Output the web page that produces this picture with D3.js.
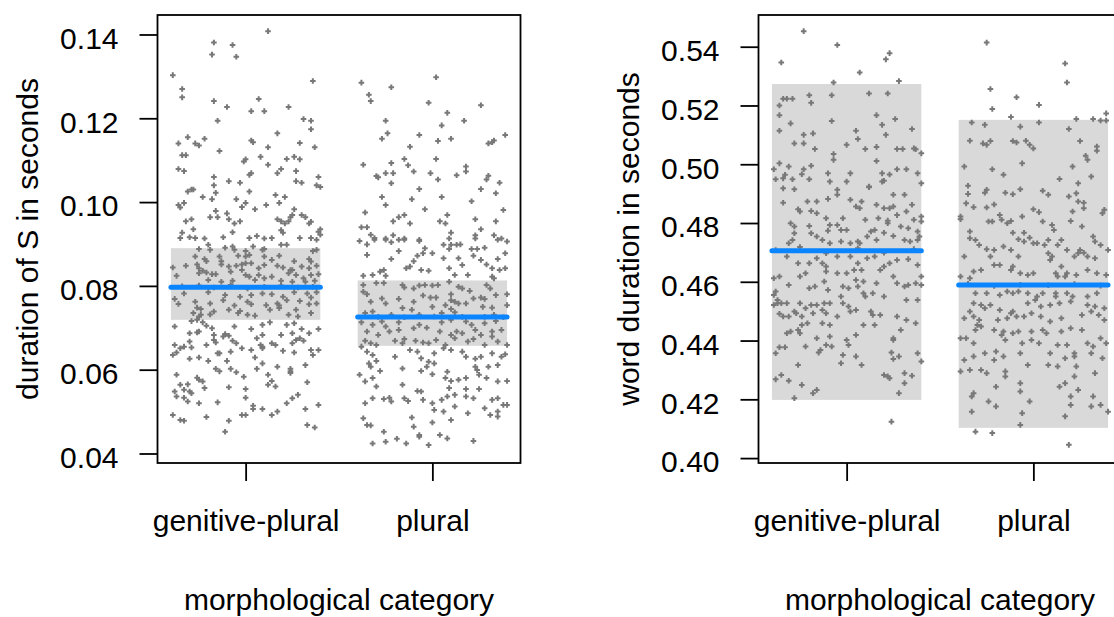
<!DOCTYPE html>
<html>
<head>
<meta charset="utf-8">
<script src="https://cdn.jsdelivr.net/npm/d3@7"></script>
<style>
  body { margin: 0; background: #fff; }
  text { font-family: "Liberation Sans", Arial, sans-serif; fill: #000; }
</style>
</head>
<body>
<script>
// categories on the x axis
const categories = ["genitive-plural", "plural"];

// tick values
const sTicks = [0.04, 0.06, 0.08, 0.10, 0.12, 0.14];
const wTicks = [0.40, 0.42, 0.44, 0.46, 0.48, 0.50, 0.52, 0.54];

// grey bands (low / high) and blue line value per category
const sBandLow = [0.0719, 0.0657];
const sBandHigh = [0.0890, 0.0813];
const sMid = [0.0797, 0.0726];
const wBandLow = [0.4198, 0.4103];
const wBandHigh = [0.5273, 0.5151];
const wMid = [0.4706, 0.4589];

const sGenPl = [
[0.12,0.1408],[-0.17,0.1381],[-0.07,0.1375],[-0.18,0.1352],[-0.05,0.1347],[-0.39,0.1303],[0.36,0.1289],[-0.34,0.1270],[-0.34,0.1250],[-0.17,0.1241],[0.07,0.1246],[-0.10,0.1227],[0.03,0.1217],[0.10,0.1217],[0.23,0.1227],[-0.15,0.1194],[0.31,0.1198],[0.35,0.1194],[0.35,0.1174],[0.17,0.1164],[-0.31,0.1155],[-0.36,0.1140],[-0.27,0.1140],[-0.25,0.1135],[-0.22,0.1151],[0.03,0.1147],[0.04,0.1143],[0.29,0.1141],[0.37,0.1131],[-0.14,0.1122],[0.12,0.1131],[-0.34,0.1112],[-0.32,0.1112],[0.08,0.1108],[0.00,0.1102],[-0.01,0.1097],[0.22,0.1103],[0.26,0.1108],[0.29,0.1102],[-0.36,0.1079],[-0.33,0.1074],[0.12,0.1089],[0.19,0.1079],[0.17,0.1069],[0.27,0.1074],[0.02,0.1065],[0.03,0.1069],[-0.17,0.1060],[0.39,0.1060],[-0.17,0.1040],[-0.09,0.1050],[-0.03,0.1046],[0.27,0.1050],[0.30,0.1046],[0.38,0.1040],[0.40,0.1036],[-0.29,0.1030],[-0.31,0.1025],[-0.28,0.1030],[-0.16,0.1022],[0.02,0.1025],[-0.23,0.1012],[-0.18,0.1007],[-0.05,0.1007],[0.16,0.1017],[0.21,0.1012],[-0.36,0.0993],[-0.33,0.0998],[-0.35,0.0987],[0.00,0.0998],[-0.02,0.0988],[0.11,0.0993],[0.18,0.0998],[0.05,0.0983],[0.26,0.0983],[-0.16,0.0979],[-0.10,0.0973],[-0.19,0.0964],[-0.15,0.0964],[-0.09,0.0959],[-0.06,0.0949],[-0.03,0.0954],[-0.32,0.0954],[-0.29,0.0959],[0.17,0.0959],[0.19,0.0954],[0.23,0.0954],[0.24,0.0964],[0.25,0.0969],[0.21,0.0949],[0.30,0.0969],[0.32,0.0964],[0.35,0.0953],[0.34,0.0949],[-0.28,0.0935],[-0.34,0.0927],[0.19,0.0933],[0.20,0.0927],[0.40,0.0935],[0.39,0.0929],[0.40,0.0922],[-0.35,0.0914],[-0.30,0.0916],[-0.27,0.0914],[-0.22,0.0913],[-0.12,0.0916],[-0.07,0.0928],[0.02,0.0914],[0.06,0.0919],[0.10,0.0913],[0.14,0.0914],[0.29,0.0914],[0.35,0.0914],[0.38,0.0910],
[-0.25,0.0888],[-0.20,0.0898],[-0.19,0.0886],[-0.11,0.0891],[-0.07,0.0894],[-0.06,0.0886],[0.00,0.0883],[0.04,0.0894],[0.09,0.0886],[0.10,0.0888],[0.19,0.0898],[0.22,0.0898],[0.36,0.0883],[0.38,0.0886],
[-0.27,0.0870],[-0.22,0.0864],[-0.21,0.0859],[-0.14,0.0870],[-0.13,0.0859],[-0.04,0.0872],[0.00,0.0870],[0.02,0.0874],[0.10,0.0870],[0.14,0.0862],[0.18,0.0872],[0.26,0.0859],[0.34,0.0864],[0.35,0.0858],
[-0.39,0.0844],[-0.32,0.0848],[-0.26,0.0851],[-0.25,0.0842],[-0.23,0.0836],[-0.13,0.0851],[-0.09,0.0846],[-0.05,0.0848],[-0.02,0.0851],[0.00,0.0854],[0.03,0.0854],[0.07,0.0842],[0.10,0.0850],[0.17,0.0848],[0.20,0.0844],[0.25,0.0838],[0.30,0.0846],[0.34,0.0842],[0.38,0.0848],[0.23,0.0830],[0.24,0.0838],
[-0.37,0.0824],[-0.25,0.0830],[-0.21,0.0832],[-0.18,0.0828],[-0.16,0.0828],[-0.08,0.0834],[-0.02,0.0838],[0.00,0.0826],[0.02,0.0822],[0.07,0.0826],[0.10,0.0818],[0.14,0.0822],[0.27,0.0826],[0.31,0.0818],[0.35,0.0826],[0.39,0.0828],[-0.20,0.0814],[-0.13,0.0810],[-0.07,0.0812],[0.05,0.0814],[0.19,0.0812],[0.25,0.0810],[0.32,0.0810],[0.37,0.0812],
[-0.34,0.0799],[-0.25,0.0801],[-0.17,0.0796],[-0.08,0.0802],[0.01,0.0794],[0.10,0.0798],[0.19,0.0801],[0.28,0.0796],[0.36,0.0798],
[-0.33,0.0782],[-0.20,0.0785],[-0.11,0.0778],[-0.03,0.0774],[0.03,0.0778],[0.09,0.0782],[0.14,0.0780],[0.20,0.0774],[0.26,0.0785],[0.33,0.0782],[0.35,0.0772],[0.38,0.0785],
[-0.38,0.0769],[-0.36,0.0757],[-0.27,0.0762],[-0.19,0.0758],[-0.12,0.0766],[-0.06,0.0753],[0.01,0.0762],[0.03,0.0756],[0.11,0.0754],[0.17,0.0758],[0.18,0.0753],[0.22,0.0766],[0.29,0.0764],[0.34,0.0756],[0.38,0.0758],[-0.26,0.0748],[-0.24,0.0745],
[-0.28,0.0735],[-0.25,0.0727],[-0.24,0.0731],[-0.19,0.0732],[-0.17,0.0739],[-0.09,0.0743],[-0.04,0.0735],[-0.03,0.0740],[0.01,0.0731],[0.05,0.0729],[0.13,0.0743],[0.18,0.0747],[0.23,0.0731],[0.27,0.0743],[0.28,0.0727],[0.35,0.0735],[-0.29,0.0716],[-0.26,0.0719],[-0.23,0.0713],
[-0.38,0.0703],[-0.21,0.0705],[-0.18,0.0699],[-0.06,0.0703],[0.03,0.0697],[0.09,0.0707],[0.13,0.0713],[0.22,0.0707],[0.26,0.0711],[0.30,0.0697],[0.39,0.0697],[-0.30,0.0687],[-0.26,0.0689],[-0.25,0.0691],[-0.17,0.0683],[-0.11,0.0685],[-0.09,0.0681],[0.09,0.0683],[0.19,0.0683],[0.25,0.0687],[0.34,0.0687],
[-0.38,0.0659],[-0.35,0.0651],[-0.33,0.0655],[-0.30,0.0667],[-0.29,0.0653],[-0.21,0.0659],[-0.17,0.0671],[-0.16,0.0665],[-0.12,0.0679],[-0.07,0.0669],[-0.05,0.0663],[0.06,0.0675],[0.08,0.0659],[0.09,0.0655],[0.14,0.0663],[0.16,0.0659],[0.25,0.0663],[0.27,0.0671],[0.29,0.0675],[0.31,0.0669],[0.35,0.0647],[-0.14,0.0639],[-0.08,0.0643],[-0.02,0.0651],[0.03,0.0647],[0.05,0.0629],[0.09,0.0651],
[-0.39,0.0635],[-0.37,0.0641],[-0.30,0.0626],[-0.25,0.0629],[-0.20,0.0621],[-0.15,0.0639],[-0.10,0.0621],[0.09,0.0615],[0.20,0.0645],[0.26,0.0641],[0.36,0.0635],[-0.16,0.0602],[-0.14,0.0596],[-0.08,0.0602],[-0.05,0.0594],[-0.01,0.0583],[0.06,0.0602],[0.17,0.0607],[0.24,0.0602],[0.24,0.0596],[0.32,0.0611],[0.39,0.0647],
[-0.37,0.0588],[-0.26,0.0581],[-0.25,0.0576],[-0.23,0.0572],[-0.22,0.0556],[-0.35,0.0564],[-0.31,0.0565],[-0.09,0.0558],[0.00,0.0554],[0.12,0.0588],[0.14,0.0573],[0.16,0.0560],[0.12,0.0564],[0.24,0.0592],[0.33,0.0570],[-0.33,0.0552],[-0.30,0.0548],
[-0.38,0.0548],[-0.37,0.0536],[-0.33,0.0533],[-0.31,0.0524],[-0.29,0.0544],[-0.25,0.0520],[-0.15,0.0522],[0.00,0.0533],[0.04,0.0514],[0.09,0.0506],[0.17,0.0500],[0.22,0.0520],[0.25,0.0532],[0.28,0.0540],[0.32,0.0506],[0.39,0.0516],[0.04,0.0506],
[-0.39,0.0492],[-0.35,0.0480],[-0.33,0.0478],[-0.21,0.0487],[-0.09,0.0478],[-0.02,0.0492],[0.00,0.0492],[0.14,0.0492],[0.33,0.0468],[0.37,0.0462],[-0.11,0.0452]
];

const sPlural = [
[0.02,0.1298],[-0.38,0.1285],[-0.22,0.1274],[-0.34,0.1256],[-0.33,0.1241],[-0.02,0.1237],[0.26,0.1231],[0.08,0.1213],[-0.25,0.1194],[0.17,0.1194],[0.05,0.1183],[-0.24,0.1164],[-0.27,0.1151],[-0.07,0.1160],[0.39,0.1160],[0.03,0.1146],[0.10,0.1151],[0.30,0.1140],[0.32,0.1143],[0.33,0.1147],[-0.12,0.1132],[-0.15,0.1103],[-0.13,0.1088],[0.02,0.1103],[-0.37,0.1089],[-0.22,0.1093],[-0.30,0.1062],[-0.29,0.1059],[-0.25,0.1069],[-0.21,0.1069],[-0.10,0.1073],[-0.01,0.1069],[0.03,0.1054],[0.18,0.1085],[0.18,0.1073],[0.13,0.1064],[0.30,0.1063],[0.29,0.1054],[0.36,0.1046],[-0.22,0.1045],[-0.27,0.1012],[-0.25,0.0993],[-0.11,0.1007],[-0.07,0.1031],[0.05,0.1012],[0.26,0.1031],[0.34,0.1021],[0.21,0.1002],[-0.36,0.0975],[-0.04,0.0983],[0.38,0.0981],[-0.21,0.0954],[-0.18,0.0964],[-0.15,0.0969],[-0.12,0.0949],[0.04,0.0954],[0.07,0.0949],[0.08,0.0969],[0.23,0.0959],[0.34,0.0954],[0.26,0.0935],[0.10,0.0927],[-0.38,0.0940],[-0.35,0.0940],[-0.33,0.0922],[-0.31,0.0914],[-0.25,0.0913],[-0.21,0.0921],[-0.15,0.0913],[-0.07,0.0910],[0.09,0.0913],[0.23,0.0921],[0.23,0.0913],[0.33,0.0921],[0.37,0.0913],
[-0.39,0.0907],[-0.35,0.0899],[-0.31,0.0910],[-0.25,0.0910],[-0.22,0.0904],[-0.18,0.0910],[-0.15,0.0910],[-0.07,0.0907],[0.06,0.0898],[0.09,0.0888],[0.10,0.0898],[0.13,0.0898],[0.15,0.0899],[0.21,0.0888],[0.24,0.0888],[0.28,0.0891],[0.35,0.0910],[0.40,0.0906],[-0.35,0.0874],[-0.18,0.0883],[-0.04,0.0890],[0.00,0.0878],[-0.05,0.0878],[-0.08,0.0872],
[-0.22,0.0864],[-0.10,0.0859],[0.06,0.0866],[0.14,0.0866],[0.22,0.0872],[0.26,0.0862],[0.35,0.0864],[0.39,0.0878],[-0.14,0.0842],[-0.12,0.0846],[-0.06,0.0838],[-0.02,0.0836],[0.09,0.0842],[0.16,0.0850],[0.19,0.0826],[0.29,0.0851],[0.32,0.0842],[0.36,0.0838],[0.39,0.0842],[-0.37,0.0824],[-0.32,0.0826],[-0.28,0.0834],[-0.26,0.0838],[-0.25,0.0824],[0.32,0.0822],[0.33,0.0818],[0.12,0.0826],
[-0.37,0.0802],[-0.37,0.0786],[-0.30,0.0807],[-0.26,0.0807],[-0.16,0.0802],[-0.15,0.0796],[-0.10,0.0794],[-0.07,0.0801],[-0.04,0.0802],[0.00,0.0801],[0.03,0.0802],[0.09,0.0810],[0.14,0.0798],[0.16,0.0794],[0.20,0.0788],[0.29,0.0802],[0.31,0.0794],[0.40,0.0780],[-0.35,0.0780],[-0.27,0.0770],[-0.18,0.0769],[-0.10,0.0762],[-0.05,0.0777],[-0.01,0.0772],[0.02,0.0772],[0.10,0.0780],[0.10,0.0766],[0.12,0.0762],[0.22,0.0770],[0.26,0.0772],[0.28,0.0769],[0.34,0.0778],
[-0.33,0.0762],[-0.25,0.0758],[-0.16,0.0747],[-0.11,0.0743],[0.00,0.0750],[0.07,0.0754],[0.10,0.0745],[0.14,0.0758],[0.18,0.0758],[0.27,0.0750],[0.32,0.0748],[0.40,0.0754],[-0.36,0.0735],[-0.32,0.0739],[-0.22,0.0731],[-0.07,0.0731],[0.05,0.0735],[0.12,0.0737],[0.33,0.0731],
[-0.29,0.0726],[-0.15,0.0725],[0.01,0.0727],[0.16,0.0726],[0.28,0.0726],[0.38,0.0725],
[-0.38,0.0713],[-0.32,0.0707],[-0.27,0.0715],[-0.25,0.0703],[-0.18,0.0713],[-0.07,0.0707],[0.05,0.0713],[0.10,0.0719],[0.18,0.0715],[0.21,0.0707],[0.28,0.0711],[0.34,0.0716],[-0.35,0.0691],[-0.29,0.0683],[-0.23,0.0691],[-0.18,0.0695],[-0.10,0.0699],[-0.03,0.0700],[0.04,0.0691],[0.10,0.0683],[0.13,0.0691],[0.16,0.0687],[0.23,0.0695],[0.26,0.0683],[0.32,0.0691],[0.37,0.0695],
[-0.36,0.0669],[-0.33,0.0663],[-0.20,0.0669],[-0.16,0.0663],[-0.15,0.0673],[-0.09,0.0669],[-0.05,0.0665],[-0.02,0.0663],[0.02,0.0671],[0.07,0.0659],[0.12,0.0675],[0.19,0.0667],[0.22,0.0673],[0.28,0.0659],[0.32,0.0679],[0.35,0.0667],[0.40,0.0659],[-0.38,0.0655],[-0.30,0.0659],
[-0.35,0.0643],[-0.32,0.0635],[-0.30,0.0621],[-0.20,0.0631],[-0.12,0.0647],[-0.08,0.0643],[-0.06,0.0627],[-0.02,0.0619],[0.01,0.0639],[0.06,0.0651],[0.10,0.0647],[0.16,0.0643],[0.18,0.0631],[0.23,0.0626],[0.26,0.0631],[0.32,0.0639],[0.37,0.0631],[0.39,0.0637],[-0.34,0.0615],[-0.28,0.0597],[-0.16,0.0603],[-0.06,0.0597],[-0.03,0.0607],[0.01,0.0615],[0.08,0.0595],[0.23,0.0607],[0.24,0.0599],[0.30,0.0607],[0.35,0.0611],[-0.33,0.0607],
[-0.39,0.0588],[-0.36,0.0572],[-0.32,0.0580],[-0.30,0.0560],[-0.16,0.0564],[-0.08,0.0549],[0.00,0.0589],[0.07,0.0580],[0.10,0.0573],[0.14,0.0576],[0.18,0.0580],[0.25,0.0588],[0.29,0.0580],[0.35,0.0572],[0.40,0.0573],[0.09,0.0556],[0.18,0.0554],[-0.06,0.0548],[0.25,0.0554],
[-0.36,0.0520],[-0.32,0.0532],[-0.26,0.0530],[-0.23,0.0533],[-0.22,0.0524],[-0.15,0.0532],[-0.13,0.0525],[-0.05,0.0528],[0.00,0.0520],[0.05,0.0528],[0.08,0.0536],[0.12,0.0540],[0.18,0.0536],[0.22,0.0532],[0.32,0.0528],[0.35,0.0532],[0.38,0.0516],[0.40,0.0516],[0.01,0.0504],[0.06,0.0500],[0.12,0.0512],[0.19,0.0496],[0.28,0.0508],[0.35,0.0500],
[-0.37,0.0484],[-0.35,0.0468],[-0.33,0.0467],[-0.11,0.0486],[-0.10,0.0464],[0.00,0.0474],[0.10,0.0480],[0.31,0.0492],[0.35,0.0488],[-0.26,0.0452],[-0.19,0.0435],[-0.07,0.0444],[-0.07,0.0440],[0.04,0.0444],[0.08,0.0436],[0.22,0.0430],[-0.32,0.0424],[-0.25,0.0428],[-0.14,0.0424],[-0.02,0.0420]
];

const wGenPl = [
[-0.23,0.5453],[-0.05,0.5406],[-0.35,0.5346],[0.21,0.5357],[0.23,0.5378],[0.07,0.5312],[-0.07,0.5278],[0.28,0.5283],
[-0.34,0.5223],[-0.32,0.5223],[-0.29,0.5223],[-0.36,0.5200],[-0.36,0.5167],[-0.36,0.5114],[-0.20,0.5235],[-0.19,0.5209],[-0.08,0.5235],[0.12,0.5241],[0.22,0.5241],[-0.30,0.5139],[-0.23,0.5100],[-0.18,0.5105],[-0.28,0.5071],[-0.23,0.5071],[-0.17,0.5052],[-0.08,0.5147],[0.05,0.5114],[0.06,0.5086],[0.16,0.5167],[0.19,0.5134],[0.21,0.5100],[0.26,0.5154],[0.35,0.5120],[0.00,0.5066],[0.10,0.5052],[0.16,0.5059],[0.27,0.5052],[0.30,0.5052],[0.36,0.5054],[0.37,0.5051],[0.40,0.5037],[0.16,0.5011],[-0.07,0.5035],[-0.07,0.5015],[-0.36,0.5003],
[-0.39,0.4983],[-0.38,0.4949],[-0.34,0.4952],[-0.33,0.4964],[-0.31,0.4992],[-0.29,0.4949],[-0.34,0.4918],[-0.28,0.4915],[-0.34,0.4869],[-0.24,0.4966],[-0.23,0.4983],[-0.20,0.4949],[-0.19,0.4995],[-0.10,0.4969],[-0.09,0.4941],[-0.10,0.4882],[-0.05,0.4913],[-0.05,0.4896],[0.02,0.4969],[0.00,0.4941],[0.12,0.4922],[0.19,0.4969],[0.19,0.4941],[0.23,0.4965],[0.27,0.4983],[0.32,0.4983],[0.38,0.4969],[0.40,0.4935],[0.25,0.4896],[0.31,0.4896],[0.20,0.4944],[0.12,0.4924],
[-0.26,0.4847],[-0.25,0.4839],[-0.19,0.4841],[-0.16,0.4833],[-0.21,0.4873],[-0.16,0.4873],[-0.11,0.4816],[-0.05,0.4793],[-0.02,0.4816],[0.02,0.4879],[0.05,0.4856],[0.08,0.4873],[0.07,0.4850],[0.10,0.4811],[0.16,0.4862],[0.20,0.4850],[0.23,0.4850],[0.25,0.4856],[0.27,0.4827],[0.32,0.4839],[0.35,0.4862],[0.40,0.4822],[0.40,0.4805],[0.17,0.4816],[0.22,0.4808],[0.33,0.4782],[0.38,0.4771],[0.39,0.4754],[0.38,0.4742],[-0.30,0.4799],[-0.28,0.4788],[-0.28,0.4765],[-0.29,0.4742],[-0.31,0.4731],[-0.20,0.4790],[-0.19,0.4765],[-0.16,0.4754],[-0.13,0.4742],[-0.10,0.4774],[-0.09,0.4793],[-0.03,0.4776],[0.00,0.4776],[0.02,0.4731],[0.06,0.4737],[0.07,0.4731],[0.11,0.4754],[0.13,0.4771],[0.15,0.4776],[0.20,0.4767],[0.25,0.4756],[0.31,0.4742],[0.34,0.4737],[-0.09,0.4731],[-0.03,0.4737],[0.16,0.4742],[0.22,0.4799],[0.29,0.4788],[0.36,0.4811],
[-0.38,0.4708],[-0.25,0.4718],[-0.11,0.4697],[0.06,0.4714],[0.20,0.4699],[0.36,0.4711],
[-0.32,0.4686],[-0.26,0.4663],[-0.16,0.4680],[-0.13,0.4663],[-0.11,0.4652],[-0.05,0.4686],[0.02,0.4686],[0.06,0.4663],[0.11,0.4680],[0.15,0.4686],[0.20,0.4652],[0.23,0.4663],[0.27,0.4674],[0.33,0.4677],[0.38,0.4657],[0.40,0.4618],[-0.39,0.4612],[-0.36,0.4618],[-0.22,0.4629],[-0.20,0.4663],[-0.11,0.4635],[-0.05,0.4629],[0.00,0.4629],[0.04,0.4640],[0.08,0.4640],[0.18,0.4640],[0.25,0.4618],
[-0.39,0.4555],[-0.38,0.4567],[-0.31,0.4589],[-0.25,0.4618],[-0.20,0.4578],[-0.17,0.4584],[-0.12,0.4601],[-0.10,0.4572],[-0.03,0.4550],[-0.02,0.4584],[0.01,0.4578],[0.05,0.4606],[0.06,0.4584],[0.09,0.4601],[0.09,0.4561],[0.10,0.4550],[0.14,0.4561],[0.16,0.4595],[0.20,0.4550],[0.27,0.4595],[0.31,0.4584],[0.33,0.4589],[0.37,0.4595],[0.40,0.4589],[-0.37,0.4538],[-0.37,0.4527],[0.32,0.4538],[0.38,0.4538],
[-0.39,0.4521],[-0.35,0.4527],[-0.32,0.4527],[-0.25,0.4527],[-0.22,0.4510],[-0.19,0.4521],[-0.16,0.4521],[-0.12,0.4527],[-0.13,0.4504],[-0.11,0.4493],[-0.09,0.4527],[-0.05,0.4482],[-0.02,0.4527],[0.01,0.4516],[0.02,0.4499],[0.05,0.4504],[-0.36,0.4491],[-0.34,0.4482],[-0.31,0.4482],[-0.28,0.4499],[-0.27,0.4493],[-0.24,0.4482],[-0.21,0.4459],[-0.18,0.4493],[-0.13,0.4459],[-0.09,0.4453],[0.13,0.4499],[0.14,0.4487],[0.18,0.4487],[0.27,0.4482],[0.32,0.4470],[0.37,0.4459],[0.09,0.4453],[0.15,0.4453],
[-0.32,0.4425],[-0.30,0.4431],[-0.26,0.4436],[-0.25,0.4425],[-0.24,0.4453],[-0.16,0.4408],[-0.11,0.4385],[-0.08,0.4380],[-0.09,0.4414],[0.00,0.4402],[0.01,0.4385],[0.05,0.4419],[0.25,0.4402],[0.25,0.4408],[0.29,0.4436],[-0.38,0.4357],[-0.36,0.4377],[-0.33,0.4377],[-0.22,0.4380],[-0.15,0.4359],[-0.14,0.4368],[-0.03,0.4323],[-0.02,0.4351],[0.05,0.4346],[0.08,0.4317],[0.24,0.4359],[0.25,0.4337],[0.28,0.4346],[0.38,0.4357],[0.40,0.4329],
[-0.38,0.4268],[-0.35,0.4283],[-0.31,0.4263],[-0.26,0.4317],[-0.24,0.4249],[-0.18,0.4221],[-0.16,0.4232],[-0.28,0.4204],[0.20,0.4283],[0.22,0.4278],[0.23,0.4272],[0.31,0.4289],[0.31,0.4255],[0.35,0.4280],[0.28,0.4221],[0.24,0.4124]
];

const wPlural = [
[-0.25,0.5414],[0.17,0.5343],[0.18,0.5278],[-0.23,0.5256],[-0.09,0.5228],[-0.22,0.5188],[0.03,0.5202],[-0.12,0.5161],
[-0.33,0.5142],[-0.26,0.5134],[-0.07,0.5128],[0.03,0.5142],[0.19,0.5120],[0.23,0.5154],[0.32,0.5154],[0.36,0.5149],[0.39,0.5173],[0.39,0.5149],[-0.34,0.5080],[-0.27,0.5071],[-0.25,0.5066],[-0.23,0.5079],[-0.11,0.5079],[-0.09,0.5074],[-0.04,0.5080],[-0.02,0.5066],[0.00,0.5054],[0.25,0.5079],[0.28,0.5029],[0.29,0.5015],[0.34,0.5060],[0.34,0.5046],[-0.37,0.4992],[-0.22,0.4983],[-0.06,0.5003],[-0.16,0.4964],[0.14,0.4950],[0.21,0.4992],[0.24,0.4935],[0.31,0.4958],
[-0.35,0.4927],[-0.35,0.4899],[-0.26,0.4903],[-0.25,0.4913],[-0.15,0.4903],[-0.11,0.4898],[-0.07,0.4915],[0.05,0.4910],[0.08,0.4896],[0.19,0.4890],[0.24,0.4873],[0.23,0.4901],[0.27,0.4869],[0.27,0.4850],[0.38,0.4845],[0.37,0.4833],[-0.39,0.4822],[-0.39,0.4813],[-0.36,0.4867],[-0.32,0.4854],[-0.25,0.4853],[-0.21,0.4863],[-0.24,0.4805],[-0.22,0.4805],[-0.18,0.4827],[-0.17,0.4811],[-0.14,0.4799],[-0.12,0.4807],[-0.06,0.4822],[0.00,0.4847],[0.03,0.4837],[0.05,0.4805],[0.10,0.4793],[0.11,0.4776],[0.20,0.4807],[0.21,0.4839],[0.26,0.4788],[0.32,0.4754],
[-0.34,0.4771],[-0.31,0.4742],[-0.29,0.4725],[-0.25,0.4711],[-0.23,0.4686],[-0.34,0.4748],[-0.21,0.4708],[-0.11,0.4767],[-0.08,0.4745],[-0.05,0.4767],[-0.02,0.4750],[0.00,0.4731],[0.02,0.4731],[0.06,0.4725],[0.08,0.4697],[0.10,0.4686],[0.13,0.4725],[0.15,0.4742],[0.18,0.4708],[0.22,0.4686],[0.25,0.4708],[0.29,0.4686],[0.33,0.4737],[0.36,0.4725],[0.40,0.4708],[-0.05,0.4737],[0.08,0.4742],[-0.37,0.4686],[-0.16,0.4720],[-0.12,0.4708],[-0.08,0.4686],[0.09,0.4674],[0.15,0.4652],[0.24,0.4697],[0.27,0.4699],[0.33,0.4680],
[0.39,0.4623],[0.34,0.4629],[0.29,0.4640],[-0.32,0.4635],[-0.28,0.4640],[-0.21,0.4657],[-0.18,0.4657],[-0.11,0.4652],[-0.12,0.4640],[-0.07,0.4629],[-0.03,0.4623],[0.00,0.4629],[0.12,0.4629],[0.13,0.4618],[0.17,0.4618],[0.18,0.4629],[0.23,0.4623],[-0.39,0.4618],[-0.34,0.4612],
[-0.35,0.4593],[-0.21,0.4586],[-0.07,0.4590],[0.08,0.4588],[0.22,0.4592],[0.36,0.4587],
[-0.31,0.4561],[-0.25,0.4561],[-0.18,0.4555],[-0.14,0.4567],[-0.11,0.4561],[-0.08,0.4567],[-0.03,0.4561],[0.02,0.4550],[0.05,0.4561],[0.12,0.4561],[0.18,0.4561],[0.21,0.4550],[0.29,0.4550],[0.34,0.4561],
[-0.32,0.4527],[-0.28,0.4521],[-0.23,0.4521],[-0.18,0.4504],[-0.12,0.4493],[-0.09,0.4482],[-0.03,0.4527],[0.01,0.4538],[0.04,0.4516],[0.09,0.4521],[0.12,0.4550],[0.14,0.4527],[0.20,0.4533],[0.29,0.4521],[0.33,0.4516],[0.38,0.4510],
[-0.37,0.4476],[-0.34,0.4499],[-0.32,0.4482],[-0.29,0.4470],[-0.26,0.4510],[-0.19,0.4470],[-0.14,0.4476],[-0.11,0.4499],[-0.05,0.4482],[-0.01,0.4493],[0.04,0.4482],[0.09,0.4465],[0.15,0.4476],[0.26,0.4487],[0.31,0.4499],[0.35,0.4487],[0.38,0.4470],
[-0.30,0.4453],[-0.28,0.4448],[-0.21,0.4436],[-0.17,0.4419],[-0.16,0.4431],[-0.11,0.4425],[-0.08,0.4431],[-0.01,0.4431],[0.05,0.4436],[0.07,0.4425],[0.15,0.4431],[0.20,0.4442],[0.26,0.4436],[-0.31,0.4436],
[-0.39,0.4408],[-0.36,0.4408],[-0.32,0.4391],[-0.26,0.4357],[-0.20,0.4363],[-0.15,0.4402],[-0.06,0.4391],[-0.01,0.4402],[0.03,0.4391],[0.09,0.4357],[0.13,0.4385],[0.18,0.4385],[0.22,0.4357],[0.29,0.4391],[0.32,0.4380],[0.36,0.4408],[0.39,0.4391],
[-0.37,0.4334],[-0.32,0.4346],[-0.21,0.4334],[-0.16,0.4346],[-0.07,0.4357],[-0.03,0.4317],[0.08,0.4317],[0.13,0.4312],[0.17,0.4340],[0.22,0.4346],[0.23,0.4312],[0.31,0.4357],[0.37,0.4340],
[-0.39,0.4295],[-0.34,0.4300],[-0.28,0.4300],[-0.25,0.4289],[-0.15,0.4295],[-0.15,0.4278],[-0.07,0.4255],[0.14,0.4243],[0.17,0.4255],[0.22,0.4278],[0.33,0.4289],
[-0.33,0.4210],[-0.32,0.4221],[-0.20,0.4243],[-0.24,0.4193],[-0.20,0.4176],[-0.07,0.4227],[-0.02,0.4193],[-0.06,0.4153],[0.20,0.4181],[0.20,0.4210],[0.24,0.4232],[0.32,0.4210],[0.31,0.4176],[0.36,0.4181],[-0.33,0.4158],[0.17,0.4142],[0.40,0.4158],[-0.07,0.4113],[-0.31,0.4090],[-0.22,0.4085],[0.19,0.4045]
];

const W = 1114, H = 617;
const plotTop = 15, plotBottom = 463, plotWidth = 363;
const ptColor = "#787878", bandColor = "#d9d9d9", midColor = "#0a84ff";

const svg = d3.select("body").append("svg")
    .attr("width", W)
    .attr("height", H);

svg.append("rect").attr("width", W).attr("height", H).attr("fill", "#fff");

const panels = [
    {left: 157.5, yDomain: [0.03773, 0.14465], ticks: sTicks, title: "duration of S in seconds",
     groups: [sGenPl, sPlural], low: sBandLow, high: sBandHigh, mid: sMid},
    {left: 758.5, yDomain: [0.39833, 0.55079], ticks: wTicks, title: "word duration in seconds",
     groups: [wGenPl, wPlural], low: wBandLow, high: wBandHigh, mid: wMid}
];

const plus = "M-2.8,0H2.8M0,-2.8V2.8";

panels.forEach(p => {
    let x = d3.scaleLinear().domain([0.528, 2.472]).range([p.left, p.left + plotWidth]);
    let y = d3.scaleLinear().domain(p.yDomain).range([plotBottom, plotTop]);
    let g = svg.append("g");

    // grey bands
    g.selectAll(".band")
        .data(categories)
        .enter().append("rect")
        .attr("class", "band")
        .attr("x", (d, i) => x(i + 1 - 0.4))
        .attr("width", (d, i) => x(i + 1.4) - x(i + 0.6))
        .attr("y", (d, i) => y(p.high[i]))
        .attr("height", (d, i) => y(p.low[i]) - y(p.high[i]))
        .attr("fill", bandColor);

    // jittered points
    p.groups.forEach((pts, i) => {
        g.selectAll(".pt" + i)
            .data(pts)
            .enter().append("path")
            .attr("class", "pt" + i)
            .attr("d", plus)
            .attr("transform", d => "translate(" + x(i + 1 + d[0]) + "," + y(d[1]) + ")")
            .attr("fill", "none")
            .attr("stroke", ptColor)
            .attr("stroke-width", 2);
    });

    // blue lines
    g.selectAll(".mid")
        .data(categories)
        .enter().append("line")
        .attr("class", "mid")
        .attr("x1", (d, i) => x(i + 1 - 0.4))
        .attr("x2", (d, i) => x(i + 1 + 0.4))
        .attr("y1", (d, i) => y(p.mid[i]))
        .attr("y2", (d, i) => y(p.mid[i]))
        .attr("stroke", midColor)
        .attr("stroke-width", 5)
        .attr("stroke-linecap", "round");

    // frame
    g.append("rect")
        .attr("x", p.left).attr("y", plotTop)
        .attr("width", plotWidth).attr("height", plotBottom - plotTop)
        .attr("fill", "none").attr("stroke", "#000").attr("stroke-width", 1.8);

    // y axis
    let ya = g.append("g")
        .attr("transform", "translate(" + p.left + ",0)")
        .call(d3.axisLeft(y).tickValues(p.ticks).tickFormat(d3.format(".2f")).tickSize(18).tickPadding(21));
    ya.select(".domain").remove();
    ya.selectAll("line").attr("stroke", "#000").attr("stroke-width", 1.8);
    ya.selectAll("text").attr("dy", "0.46em").style("font-size", "30px").attr("fill", "#000");

    // x axis
    let xa = g.append("g")
        .attr("transform", "translate(0," + plotBottom + ")")
        .call(d3.axisBottom(x).tickValues([1, 2]).tickFormat(d => categories[d - 1]).tickSize(18));
    xa.select(".domain").remove();
    xa.selectAll("line").attr("stroke", "#000").attr("stroke-width", 1.8);
    xa.selectAll("text").attr("y", 68).attr("dy", 0).style("font-size", "30px").attr("fill", "#000");

    // titles
    svg.append("text")
        .attr("x", p.left + plotWidth / 2)
        .attr("y", 610)
        .attr("text-anchor", "middle")
        .style("font-size", "30px")
        .text("morphological category");

    svg.append("text")
        .attr("transform", "translate(" + (p.left - 120) + "," + ((plotTop + plotBottom) / 2) + ") rotate(-90)")
        .attr("text-anchor", "middle")
        .style("font-size", "30px")
        .text(p.title);
});
</script>
</body>
</html>
